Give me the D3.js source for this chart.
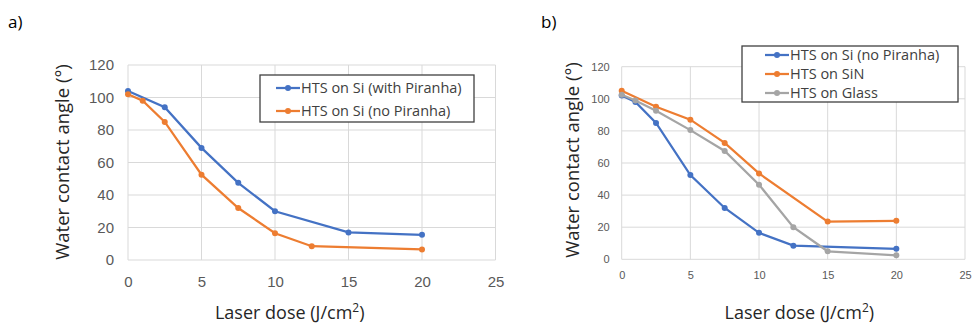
<!DOCTYPE html>
<html>
<head>
<meta charset="utf-8">
<script src="https://cdn.jsdelivr.net/npm/d3@7"></script>
<style>
  body { margin: 0; background: #fff; }
  svg { display: block; font-family: "Open Sans", "Noto Sans", sans-serif; }
</style>
</head>
<body>
<div id="wrapper"></div>
<script>
// panel a
const doseA_pir = [0, 2.5, 5, 7.5, 10, 15, 20];
const angleA_pir = [104, 94, 69, 47.5, 30, 17, 15.5];
const doseA_noPir = [0, 1, 2.5, 5, 7.5, 10, 12.5, 20];
const angleA_noPir = [102, 98, 85, 52.5, 32, 16.5, 8.5, 6.5];

// panel b
const doseB_si = [0, 1, 2.5, 5, 7.5, 10, 12.5, 20];
const angleB_si = [102, 98, 85, 52.5, 32, 16.5, 8.5, 6.5];
const doseB_sin = [0, 2.5, 5, 7.5, 10, 15, 20];
const angleB_sin = [105, 95, 87, 72.5, 53.5, 23.5, 24];
const doseB_glass = [0, 1, 2.5, 5, 7.5, 10, 12.5, 15, 20];
const angleB_glass = [102.5, 99, 92.5, 80.5, 67.5, 46.5, 20, 5, 2.5];

const xTicks = [0, 5, 10, 15, 20, 25];
const yTicks = [0, 20, 40, 60, 80, 100, 120];

const blue = "#4472c4", orange = "#ed7d31", grey = "#a5a5a5";

const svg = d3.select("#wrapper").append("svg")
    .attr("width", 972)
    .attr("height", 327);

function zipPts(xs, ys) {
    return xs.map((x, i) => ({x: x, y: ys[i]}));
}

function drawPanel(p) {
    const xScale = d3.scaleLinear().domain([0, 25]).range([p.left, p.right]);
    const yScale = d3.scaleLinear().domain([0, 120]).range([p.bottom, p.top]);

    const g = svg.append("g");

    // grid
    g.selectAll(".hg").data(yTicks).join("line")
        .attr("x1", p.left).attr("x2", p.right)
        .attr("y1", d => yScale(d)).attr("y2", d => yScale(d))
        .attr("stroke", "#d9d9d9").attr("stroke-width", 1);
    g.selectAll(".vg").data(xTicks).join("line")
        .attr("x1", d => xScale(d)).attr("x2", d => xScale(d))
        .attr("y1", p.top).attr("y2", p.bottom)
        .attr("stroke", "#d9d9d9").attr("stroke-width", 1);

    // tick labels
    const xAxis = d3.axisBottom(xScale).tickValues(xTicks).tickSize(0).tickPadding(p.xPad);
    const ax = g.append("g").attr("transform", `translate(0,${p.bottom})`).call(xAxis);
    ax.select(".domain").remove();
    ax.selectAll("text").attr("fill", "#595959").style("font-size", p.tickFont + "px");

    const yAxis = d3.axisLeft(yScale).tickValues(yTicks).tickSize(0).tickPadding(p.yPad);
    const ay = g.append("g").attr("transform", `translate(${p.left},0)`).call(yAxis);
    ay.select(".domain").remove();
    ay.selectAll("text").attr("fill", "#595959").style("font-size", p.tickFont + "px");

    // series
    const line = d3.line().x(d => xScale(d.x)).y(d => yScale(d.y));
    p.series.forEach(s => {
        const pts = zipPts(s.xs, s.ys);
        g.append("path").attr("d", line(pts))
            .attr("fill", "none").attr("stroke", s.color).attr("stroke-width", 2.25);
        g.selectAll(null).data(pts).join("circle")
            .attr("cx", d => xScale(d.x)).attr("cy", d => yScale(d.y))
            .attr("r", 3).attr("fill", s.color);
    });

    // axis titles
    g.append("text")
        .attr("x", (p.left + p.right) / 2 + p.xTitleDx).attr("y", 319)
        .attr("text-anchor", "middle").attr("fill", "#262626")
        .style("font-size", "18px")
        .html("Laser dose (J/cm<tspan dy='-7' font-size='12px'>2</tspan><tspan dy='7'>)</tspan>");
    g.append("text")
        .attr("transform", `translate(${p.yTitleX},${p.yTitleY}) rotate(-90)`)
        .attr("text-anchor", "middle").attr("fill", "#262626")
        .style("font-size", "18.5px")
        .text("Water contact angle (°)");

    // panel letter
    g.append("text").attr("x", p.letterX).attr("y", 28)
        .attr("fill", "#000").style("font-size", "17px").text(p.letter);

    // legend
    const L = p.legend;
    g.append("rect").attr("x", L.x).attr("y", L.y).attr("width", L.w).attr("height", L.h)
        .attr("fill", "#fff").attr("stroke", "#404040").attr("stroke-width", 1.3);
    p.series.forEach((s, i) => {
        const yy = L.y + L.first + i * L.step;
        g.append("line").attr("x1", L.x + L.lx).attr("x2", L.x + L.lx + 24)
            .attr("y1", yy).attr("y2", yy).attr("stroke", s.color).attr("stroke-width", 2.25);
        g.append("circle").attr("cx", L.x + L.lx + 12).attr("cy", yy).attr("r", 3).attr("fill", s.color);
        g.append("text").attr("x", L.x + L.lx + 25).attr("y", yy).attr("dy", "0.35em")
            .attr("fill", "#404040").style("font-size", L.font + "px").text(s.name);
    });
}

drawPanel({
    left: 128, right: 495.5, top: 65, bottom: 260,
    tickFont: 15, xPad: 16, yPad: 14, xTitleDx: -22, yTitleX: 69, yTitleY: 162,
    letter: "a)", letterX: 8,
    series: [
        {name: "HTS on Si (with Piranha)", xs: doseA_pir, ys: angleA_pir, color: blue},
        {name: "HTS on Si (no Piranha)", xs: doseA_noPir, ys: angleA_noPir, color: orange}
    ],
    legend: {x: 260, y: 75, w: 214, h: 47, first: 13, step: 23, lx: 16, font: 14.5}
});

drawPanel({
    left: 621.7, right: 965, top: 66.7, bottom: 259.3,
    tickFont: 11, xPad: 12, yPad: 12, xTitleDx: 6, yTitleX: 579, yTitleY: 160,
    letter: "b)", letterX: 541,
    series: [
        {name: "HTS on Si (no Piranha)", xs: doseB_si, ys: angleB_si, color: blue},
        {name: "HTS on SiN", xs: doseB_sin, ys: angleB_sin, color: orange},
        {name: "HTS on Glass", xs: doseB_glass, ys: angleB_glass, color: grey}
    ],
    legend: {x: 742, y: 46, w: 216, h: 56, first: 9, step: 19, lx: 23, font: 14.5}
});
</script>
</body>
</html>
